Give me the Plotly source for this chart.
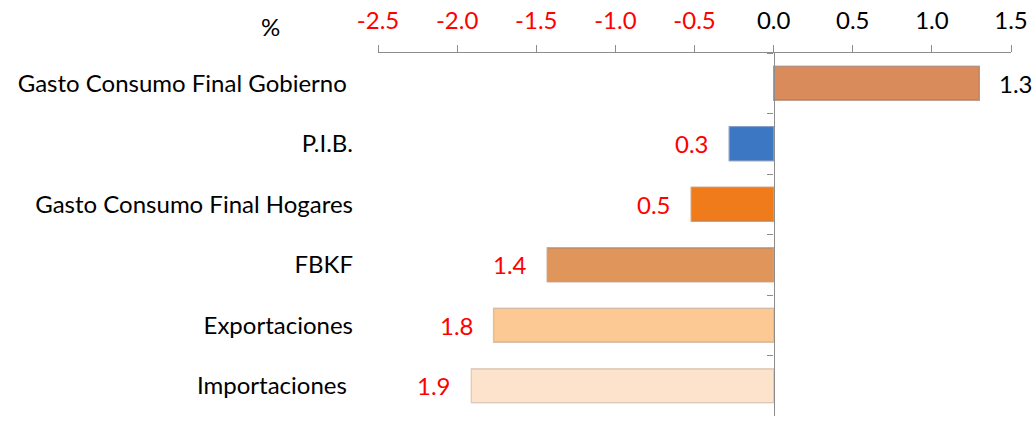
import plotly.graph_objects as go

categories = ["Gasto Consumo Final Gobierno\u00a0", "P.I.B.", "Gasto Consumo Final Hogares",
              "FBKF", "Exportaciones", "Importaciones\u00a0"]
values = [1.30, -0.28, -0.52, -1.43, -1.77, -1.91]
bar_colors = ["#D98B5C", "#3B77C2", "#F07B1B", "#E0955B", "#FCC894", "#FDE3CC"]
border_colors = ["#98552E", "#2A5792", "#B4590F", "#A8693A", "#C99868", "#D6B08F"]
x_ticks = [-2.5, -2.0, -1.5, -1.0, -0.5, 0.0, 0.5, 1.0, 1.5]

FONT = "Lato"
FS = 24
tick_text = [f'<span style="color:{"#FF0000" if t < 0 else "#000000"}">{t:.1f}</span>' for t in x_ticks]

fig = go.Figure()
fig.add_trace(go.Bar(
    x=values, y=categories, orientation="h",
    marker=dict(color=bar_colors, line=dict(color=border_colors, width=1.2)),
    hoverinfo="skip", showlegend=False,
))
# invisible trace to carry the zero-line axis with category-boundary ticks
fig.add_trace(go.Bar(
    x=values, y=categories, orientation="h", yaxis="y2",
    marker=dict(color="rgba(0,0,0,0)"), hoverinfo="skip", showlegend=False,
))

for v, c in zip(values, categories):
    fig.add_annotation(
        x=v, y=c, xref="x", yref="y",
        text=f"{abs(v):.1f}", showarrow=False,
        xanchor="left" if v >= 0 else "right",
        xshift=18 if v >= 0 else -18,
        font=dict(family=FONT, size=FS, color="#000000" if v >= 0 else "#FF0000"),
    )

fig.add_annotation(x=-0.17, y=1.0, xref="paper", yref="paper",
                   xanchor="center", yanchor="middle", yshift=27,
                   text="%", showarrow=False,
                   font=dict(family=FONT, size=FS, color="#000000"))

fig.update_layout(
    width=1033, height=421,
    margin=dict(l=378, r=18, t=52, b=5),
    paper_bgcolor="white", plot_bgcolor="white",
    bargap=0.44,
    font=dict(family=FONT, size=FS, color="#000000"),
    xaxis=dict(
        side="top", range=[-2.5, 1.5], tickvals=x_ticks, ticktext=tick_text,
        showgrid=False, zeroline=False, showline=True, linecolor="#8C8C8C", linewidth=1.3,
        ticks="outside", ticklen=7, tickcolor="#8C8C8C", tickwidth=1.3,
        tickfont=dict(family=FONT, size=FS), ticklabelstandoff=6,
    ),
    yaxis=dict(
        categoryorder="array", categoryarray=categories, autorange="reversed",
        showgrid=False, zeroline=False, showline=False, ticks="",
        tickfont=dict(family=FONT, size=FS, color="#000000"), ticklabelstandoff=24,
    ),
    yaxis2=dict(
        overlaying="y", anchor="free", position=0.625, side="left",
        categoryorder="array", categoryarray=categories, autorange="reversed",
        showgrid=False, zeroline=False, showline=True, linecolor="#8C8C8C", linewidth=1.3,
        ticks="outside", tickson="boundaries", ticklen=6, tickcolor="#8C8C8C", tickwidth=1.3,
        showticklabels=False,
    ),
)

fig.write_html("out.html", config={"displayModeBar": False},
               post_script="document.body.style.margin='0';")
